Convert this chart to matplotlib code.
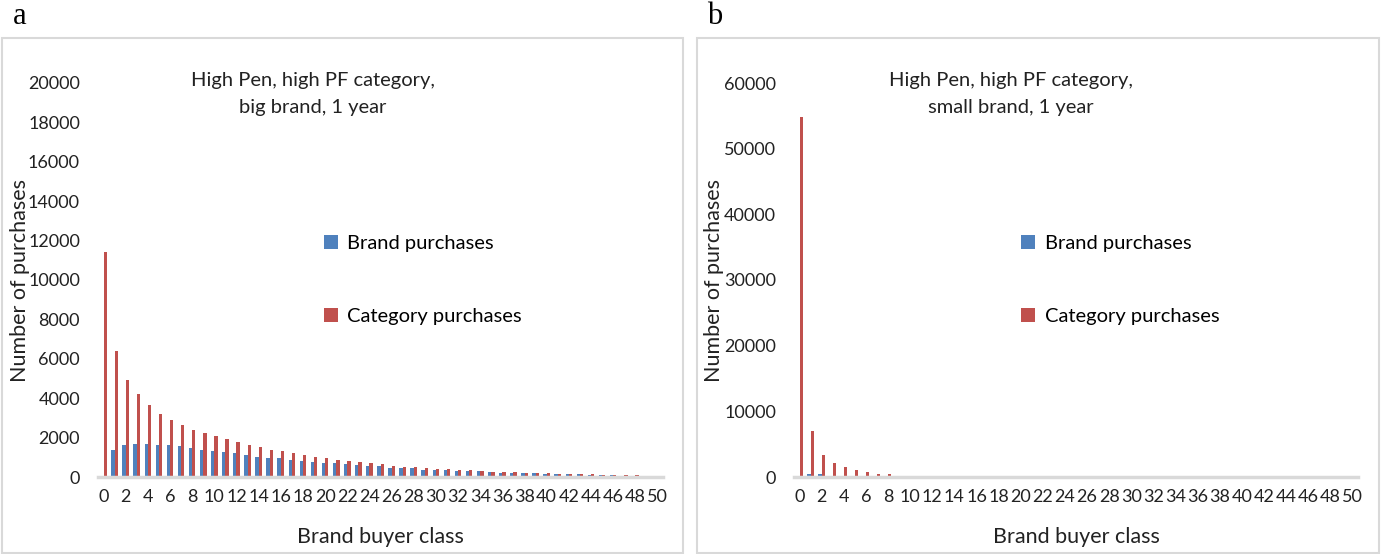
import matplotlib.pyplot as plt
from matplotlib.patches import Rectangle
import numpy as np

plt.rcParams['font.family'] = ['Lato', 'DejaVu Sans']

# Brand buyer classes 0..50
classes = list(range(51))
tick_labels = [str(c) for c in range(0, 51, 2)]

# Panel a: big brand
big_brand = [0, 1350, 1620, 1700, 1700, 1620, 1620, 1550, 1470, 1380, 1300, 1270, 1200,
             1120, 1030, 960, 950, 880, 800, 780, 720, 710, 640, 630, 560, 560, 470, 460,
             450, 380, 370, 360, 300, 290, 280, 230, 220, 210, 190, 180, 150, 140, 130,
             130, 120, 110, 100, 40, 40, 30, 30]
big_category = [11400, 6400, 4900, 4200, 3650, 3200, 2900, 2650, 2400, 2250, 2100, 1950,
                1780, 1600, 1520, 1380, 1300, 1200, 1100, 1030, 950, 880, 820, 770, 700,
                640, 580, 530, 500, 440, 420, 400, 350, 330, 300, 270, 260, 250, 200, 190,
                180, 170, 150, 140, 130, 120, 110, 100, 90, 40, 30]

# Panel b: small brand
small_brand = [0, 460, 500, 150, 150, 130, 120, 110, 100, 100, 100, 100, 100, 100, 100,
               100, 100, 100, 100, 100, 100, 100, 100, 100, 100, 100, 100, 100, 100, 100,
               100, 100, 100, 100, 100, 100, 100, 100, 100, 100, 100, 100, 100, 100, 100,
               100, 100, 100, 100, 100, 100]
small_category = [54800, 7000, 3400, 2200, 1500, 1050, 750, 450, 450, 200, 180, 170, 160,
                  150, 150, 150, 150, 150, 150, 150, 150, 150, 150, 150, 150, 150, 150, 150,
                  150, 150, 150, 150, 150, 150, 150, 150, 150, 150, 150, 150, 150, 150, 150,
                  150, 150, 150, 150, 150, 150, 150, 150]

BLUE = '#4F81BD'
RED = '#C0504D'
GRID = '#D9D9D9'
W, H = 1381, 554

fig = plt.figure(figsize=(13.81, 5.54), dpi=100)

# light grey frames round each panel
for x0, x1 in [(2, 683), (697, 1379)]:
    fig.patches.append(Rectangle((x0 / W, 1 - 553 / H), (x1 - x0) / W, (553 - 38) / H,
                                 transform=fig.transFigure, fill=False,
                                 edgecolor=GRID, linewidth=1.5))


def panel(left_px, right_px, brand, category, ymax, ystep, title, letter,
          letter_x, title_x, ylab_x, legend_x):
    ax = fig.add_axes([left_px / W, 1 - 477 / H, (right_px - left_px) / W, 394 / H])
    x = np.array(classes)
    bw = 0.3
    ax.bar(x - bw / 2, brand, width=bw, color=BLUE, label='Brand purchases')
    ax.bar(x + bw / 2, category, width=bw, color=RED, label='Category purchases')
    ax.set_xlim(-0.5, 50.5)
    ax.set_ylim(0, ymax)
    ax.set_yticks(range(0, ymax + 1, ystep))
    ax.set_xticks(range(0, 51, 2))
    ax.set_xticklabels(tick_labels)
    ax.tick_params(length=0, labelsize=13, colors='#222222')
    ax.tick_params(axis='y', pad=13)
    ax.tick_params(axis='x', pad=9)
    for s in ax.spines.values():
        s.set_visible(False)
    ax.axhline(0, color=GRID, linewidth=2.5, zorder=5, clip_on=False)
    ax.legend(frameon=False, loc='center left', bbox_to_anchor=(legend_x, 0.5),
              fontsize=14.5, labelspacing=2.75, handlelength=0.7, handleheight=0.7,
              handletextpad=0.45)
    fig.text(title_x / W, 1 - 72 / H, title, ha='center', va='top', fontsize=14.5,
             color='#222222', linespacing=1.75)
    fig.text(ylab_x / W, 1 - 280 / H, 'Number of purchases', rotation=90,
             ha='center', va='center', fontsize=15.5, color='#222222')
    fig.text((left_px + right_px) / 2 / W, 1 - 537 / H, 'Brand buyer class',
             ha='center', va='center', fontsize=15.5, color='#222222')
    fig.text(letter_x / W, 1 - 16 / H, letter, ha='center', va='center', fontsize=22,
             family='Liberation Serif')
    return ax


panel(98, 663, big_brand, big_category, 20000, 2000,
      'High Pen, high PF category,\nbig brand, 1 year', 'a', 20, 313, 20, 0.368)
panel(794, 1358, small_brand, small_category, 60000, 10000,
      'High Pen, high PF category,\nsmall brand, 1 year', 'b', 715, 1011, 714, 0.371)

plt.savefig('out.png', dpi=100)
